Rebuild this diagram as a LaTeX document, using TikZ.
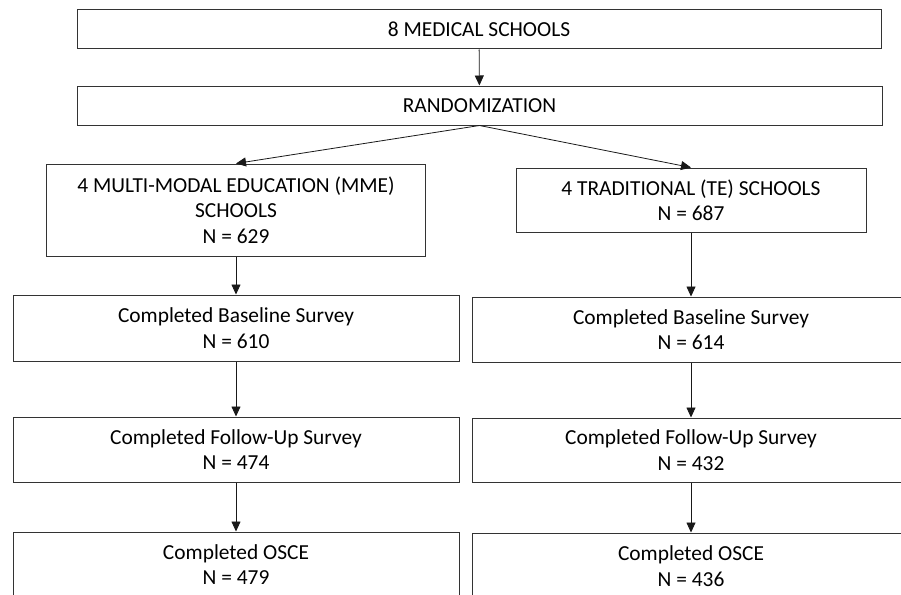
\documentclass[tikz,border=0pt]{standalone}
\usepackage{fontspec}
\setmainfont{Carlito}
\usetikzlibrary{arrows.meta}
\begin{document}
\begin{tikzpicture}[x=1pt,y=-1pt,
  box/.style={draw=black!80,line width=1pt,inner sep=0pt,align=center,
    font=\fontsize{21.4}{25.5}\selectfont},
  link/.style={-{Triangle[length=10pt,width=9pt]},black!90,line width=0.8pt}]
\useasboundingbox (0,0) rectangle (901,594);
\clip (0,0) rectangle (901,594);% the lowest and right boxes run off the page
% top of the chart
\node[box,minimum width=804,minimum height=39] (schools) at (479,29.5) {8 MEDICAL SCHOOLS};
\node[box,minimum width=805,minimum height=39] (random) at (479.5,105.5) {RANDOMIZATION};
% the two arms
\node[box,minimum width=379,minimum height=92] (mme) at (236,210)
  {4 MULTI-MODAL EDUCATION (MME)\\SCHOOLS\\N = 629};
\node[box,minimum width=350,minimum height=64] (te) at (691,200)
  {4 TRADITIONAL (TE) SCHOOLS\\N = 687};
\node[box,minimum width=446,minimum height=66] (baseMME) at (236,328) {Completed Baseline Survey\\N = 610};
\node[box,minimum width=438,minimum height=65] (baseTE) at (691,329.5) {Completed Baseline Survey\\N = 614};
\node[box,minimum width=446,minimum height=65] (followMME) at (236,449.5) {Completed Follow-Up Survey\\N = 474};
\node[box,minimum width=438,minimum height=64] (followTE) at (691,450) {Completed Follow-Up Survey\\N = 432};
\node[box,minimum width=446,minimum height=65] (osceMME) at (236,564.5) {Completed OSCE\\N = 479};
\node[box,minimum width=438,minimum height=66] (osceTE) at (691,566) {Completed OSCE\\N = 436};
% arrows
\draw[link] (schools) -- (random);
\draw[link] (random.south) -- (mme.north);
\draw[link] (random.south) -- (te.north);
\draw[link] (mme) -- (baseMME);
\draw[link] (te) -- (baseTE);
\draw[link] (baseMME) -- (followMME);
\draw[link] (baseTE) -- (followTE);
\draw[link] (followMME) -- (osceMME);
\draw[link] (followTE) -- (osceTE);
\end{tikzpicture}
\end{document}
